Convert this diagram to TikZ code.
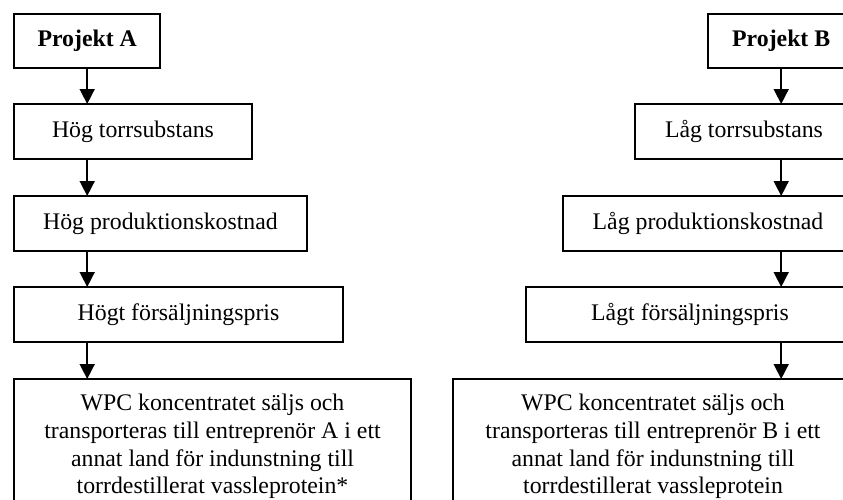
\documentclass[tikz,border=0pt]{standalone}
\usepackage{fontspec}
\setmainfont{Liberation Serif}
\usetikzlibrary{arrows.meta}
\tikzset{
  box/.style={draw=black, line width=2pt, rectangle, anchor=north west, inner sep=0pt,
    minimum height=55pt, align=center, font=\fontsize{23.8}{27.7}\selectfont},
  projbox/.style={box, line width=2.4pt, minimum width=146pt, minimum height=54pt, font=\fontsize{23.8}{27.7}\selectfont\bfseries},
  arr/.style={line width=1.6pt, -{Triangle[width=15pt,length=15pt]}, shorten >=-1pt}
}
\begin{document}
\begin{tikzpicture}[x=1pt,y=-1pt]
\useasboundingbox (0,0) rectangle (843,499);
\clip (0,0) rectangle (843,499);
% left column
\node[projbox] (pa) at (13,13) {Projekt A};
\node[box, minimum width=238pt] (a1) at (13,103) {Hög torrsubstans};
\node[box, minimum width=293pt] (a2) at (13,195) {Hög produktionskostnad};
\node[box, minimum width=329pt] (a3) at (13,286) {Högt försäljningspris};
\node[box, minimum width=397pt, minimum height=135pt] (a4) at (13,378)
  {WPC koncentratet säljs och\\transporteras till entreprenör A i ett\\annat land för indunstning till\\torrdestillerat vassleprotein*};
% right column
\node[projbox] (pb) at (707,13) {Projekt B};
\node[box, minimum width=218pt] (b1) at (634,103) {Låg torrsubstans};
\node[box, minimum width=290pt] (b2) at (562,195) {Låg produktionskostnad};
\node[box, minimum width=328pt] (b3) at (525,286) {Lågt försäljningspris};
\node[box, minimum width=400pt, minimum height=135pt] (b4) at (452,378)
  {WPC koncentratet säljs och\\transporteras till entreprenör B i ett\\annat land för indunstning till\\torrdestillerat vassleprotein};
% arrows
\draw[arr] (pa.south) -- (pa.south |- a1.north);
\draw[arr] (pa.south |- a1.south) -- (pa.south |- a2.north);
\draw[arr] (pa.south |- a2.south) -- (pa.south |- a3.north);
\draw[arr] (pa.south |- a3.south) -- (pa.south |- a4.north);
\draw[arr] (pb.south) -- (pb.south |- b1.north);
\draw[arr] (pb.south |- b1.south) -- (pb.south |- b2.north);
\draw[arr] (pb.south |- b2.south) -- (pb.south |- b3.north);
\draw[arr] (pb.south |- b3.south) -- (pb.south |- b4.north);
\end{tikzpicture}
\end{document}
